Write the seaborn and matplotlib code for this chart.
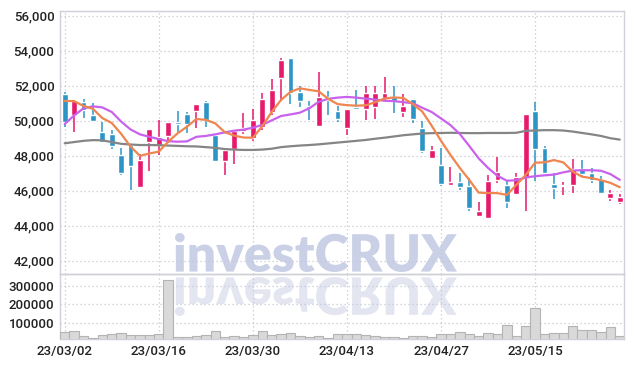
import numpy as np
import pandas as pd
import matplotlib
matplotlib.use('Agg')
import matplotlib.pyplot as plt
import seaborn as sns
from matplotlib.textpath import TextPath
from matplotlib.patches import PathPatch
from matplotlib.font_manager import FontProperties
from matplotlib.transforms import Affine2D

# daily OHLC
opens = [51550, 50350, 51050, 50300, 49350, 49220, 48050, 48600, 46230, 48800,
         48590, 49100, 49930, 50380, 50540, 51070, 49180, 47710, 48360, 49400,
         49040, 49640, 50520, 52460, 53570, 51640, 50820, 49700, 51340, 50560,
         49570, 50780, 50650, 50800, 51300, 51340, 50520, 51230, 49570, 47850,
         47470, 46330, 46500, 46270, 44580, 44430, 46610, 46330, 45810, 46800,
         50550, 48420, 46370, 46280, 46330, 47220, 47000, 46670, 45600, 45380]
highs = [51650, 51150, 51250, 51000, 49950, 49470, 48450, 48650, 48080, 49520,
         50040, 49950, 50580, 50480, 50960, 51130, 49230, 48330, 49450, 50420,
         50650, 51570, 52370, 53570, 53570, 51980, 51150, 52770, 51700, 50840,
         50680, 51750, 51990, 51980, 52470, 51980, 51550, 51230, 49960, 48560,
         48450, 47350, 46990, 46730, 45370, 46900, 47950, 46620, 47000, 50370,
         51050, 48570, 46990, 46500, 47810, 47750, 47300, 46840, 46040, 45810]
lows = [49650, 49350, 50150, 49950, 48700, 48370, 46870, 46050, 46200, 47100,
        48060, 48750, 49380, 49300, 49600, 49650, 47650, 46900, 47520, 49250,
        48850, 49450, 50330, 51150, 50960, 50760, 50050, 49650, 50350, 49950,
        49180, 50640, 50040, 50100, 51100, 50420, 50230, 49850, 48140, 47790,
        46260, 46300, 46050, 44820, 44560, 44360, 46460, 45030, 45780, 44860,
        46550, 46950, 45510, 45750, 45890, 46850, 46450, 45850, 45410, 45230]
closes = [49950, 51100, 50600, 50000, 48800, 48580, 47020, 47420, 47750, 49500,
          49050, 49900, 49810, 49830, 50950, 50030, 47710, 48320, 49430, 49600,
          50040, 51230, 51750, 53470, 51600, 51140, 50700, 51350, 51180, 50100,
          50670, 50650, 51560, 51560, 51560, 51140, 50840, 50100, 48280, 48320,
          46400, 46500, 46200, 44990, 44840, 46550, 47090, 45380, 46800, 50360,
          48380, 47030, 46140, 46330, 47220, 46940, 46620, 45860, 45850, 45620]

# moving averages (orange / purple / gray)
ma_short = [51130, 51120, 50840, 50680, 50150, 49870, 49250, 48520, 47990, 48130,
            48230, 48800, 49280, 49660, 50100, 50050, 49850, 49350, 49150, 49040,
            49030, 49680, 50500, 51190, 51650, 51850, 51760, 51680, 51250, 50950,
            50890, 50860, 50880, 51060, 51270, 51330, 51300, 50950, 50530, 49720,
            48850, 48050, 47300, 46620, 45890, 45870, 45860, 45760, 46330, 46900,
            47600, 47620, 47750, 47620, 47090, 46800, 46720, 46600, 46450, 46200]
ma_mid = [49810, 50300, 50710, 50820, 50760, 50500, 49950, 49500, 49220, 49080,
          48950, 48830, 48800, 48820, 49080, 49130, 49220, 49330, 49430, 49490,
          49600, 49760, 50020, 50270, 50360, 50460, 50710, 51080, 51250, 51320,
          51360, 51320, 51260, 51210, 51140, 51120, 51060, 51000, 50740, 50500,
          50130, 49750, 49240, 48560, 47850, 47300, 46850, 46570, 46600, 46750,
          46830, 46880, 46920, 47050, 47150, 47170, 47170, 47140, 46950, 46620]
ma_long = [48710, 48780, 48850, 48890, 48880, 48780, 48680, 48640, 48610, 48610,
           48600, 48580, 48560, 48540, 48530, 48490, 48450, 48380, 48350, 48330,
           48330, 48350, 48400, 48490, 48540, 48580, 48610, 48650, 48700, 48750,
           48800, 48850, 48900, 48970, 49030, 49100, 49170, 49220, 49270, 49290,
           49300, 49310, 49300, 49290, 49290, 49300, 49300, 49300, 49310, 49420,
           49440, 49460, 49460, 49440, 49380, 49300, 49220, 49130, 49000, 48920]

volume = [47800, 53200, 26100, 18900, 31500, 38700, 42300, 31500, 31500, 31500,
          38700, 328800, 20700, 20700, 26000, 30500, 56800, 24300, 29700, 24300,
          33300, 53200, 33300, 37000, 42300, 26100, 24300, 29700, 18900, 37000,
          37000, 37000, 33300, 29700, 24300, 20700, 15300, 29700, 29700, 24300,
          37000, 37000, 51400, 37000, 29700, 46000, 37000, 85600, 26100, 80200,
          177500, 37000, 46000, 42300, 80200, 58600, 58600, 51400, 74800, 29700]

tick_idx = [0, 10, 20, 30, 40, 50]
tick_labels = ['23/03/02', '23/03/16', '23/03/30', '23/04/13', '23/04/27', '23/05/15']
price_ticks = [42000, 44000, 46000, 48000, 50000, 52000, 54000, 56000]
vol_ticks = [100000, 200000, 300000]

UP = '#e6196b'
DOWN = '#2d95c6'
GRID = '#c3c7db'
FRAME = '#cfd0d8'

sns.set_style('white')
plt.rcParams['font.family'] = ['Roboto', 'DejaVu Sans']

df = pd.DataFrame({'idx': np.arange(len(opens)), 'open': opens, 'high': highs,
                   'low': lows, 'close': closes, 'ma_short': ma_short,
                   'ma_mid': ma_mid, 'ma_long': ma_long, 'volume': volume})
up = df['close'] >= df['open']
cols = np.where(up, UP, DOWN)

W, H = 634, 368
fig = plt.figure(figsize=(W / 100, H / 100), dpi=100)
fig.patch.set_facecolor('white')
ax = fig.add_axes([60 / W, 1 - 274 / H, 564 / W, 263 / H])
axv = fig.add_axes([60 / W, 1 - 339.3 / H, 564 / W, 65.3 / H])
for a in (ax, axv):
    a.set_facecolor('none')

# candles
ax.vlines(df['idx'], df['low'], df['high'], colors=cols, lw=1.1, zorder=3)
body = (df['close'] - df['open']).abs().clip(lower=40)
ax.bar(df['idx'], body, bottom=np.minimum(df['open'], df['close']),
       width=0.62, color=cols, zorder=4)

# moving averages
sns.lineplot(data=df, x='idx', y='ma_long', ax=ax, color='#858585', lw=1.6, zorder=5)
sns.lineplot(data=df, x='idx', y='ma_mid', ax=ax, color='#c862ec', lw=1.6, zorder=6)
sns.lineplot(data=df, x='idx', y='ma_short', ax=ax, color='#ef8650', lw=1.6, zorder=7)

# volume
sns.barplot(data=df, x='idx', y='volume', ax=axv, native_scale=True, width=1.0,
            color='#d9d9d9', edgecolor='#b4b4b4', linewidth=0.8, saturation=1,
            zorder=3)

ax.set_ylim(41240, 56270)
axv.set_ylim(10000, 362000)
for a in (ax, axv):
    a.set_xlim(-0.5, 59.45)
    a.set_xticks(tick_idx)
    a.set_xlabel('')
    a.set_ylabel('')
    a.grid(True, linestyle=(0, (1, 2.2)), color=GRID, lw=0.9, zorder=0)
    a.tick_params(length=0, labelsize=9.5, colors='#222222', pad=4)
    for s in a.spines.values():
        s.set_color(FRAME)
        s.set_linewidth(1.0)

ax.set_yticks(price_ticks)
ax.set_yticklabels([f'{v:,}' for v in price_ticks])
ax.set_xticklabels([])
axv.set_yticks(vol_ticks)
axv.set_yticklabels([str(v) for v in vol_ticks])
axv.set_xticklabels(tick_labels)
for lab in ax.get_yticklabels() + axv.get_yticklabels() + axv.get_xticklabels():
    lab.set_fontweight('medium')

# watermark with reflection
tp = TextPath((0, 0), 'investCRUX', size=1,
              prop=FontProperties(family=['Lato', 'DejaVu Sans'], weight='heavy'))
bb = tp.get_extents()
sx = (457 - 175) / W / bb.width
sy = (272 - 233) / H / bb.height
t_main = Affine2D().translate(-bb.x0, -bb.y0).scale(sx, sy).translate(175 / W, 1 - 272 / H)
t_refl = Affine2D().translate(-bb.x0, -bb.y0).scale(sx, -sy).translate(175 / W, 1 - 277 / H)
fig.patches.append(PathPatch(t_main.transform_path(tp), transform=fig.transFigure,
                             facecolor='#cad0e6', edgecolor='none', zorder=-1))
fig.patches.append(PathPatch(t_refl.transform_path(tp), transform=fig.transFigure,
                             facecolor='#e3e5f0', edgecolor='none', zorder=-1))

fig.savefig('out.png', dpi=100)
